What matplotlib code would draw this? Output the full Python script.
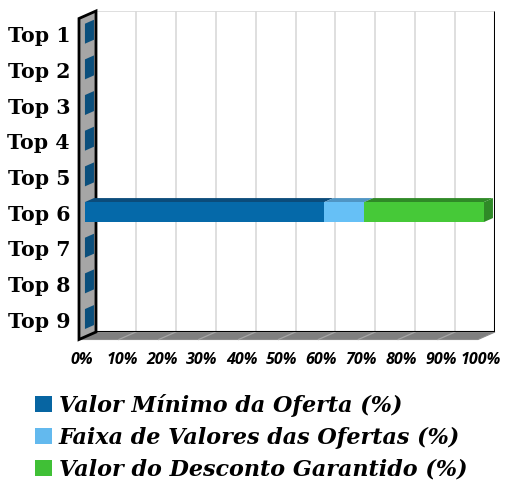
import numpy as np
import matplotlib.pyplot as plt
from matplotlib.patches import Polygon, Patch
from matplotlib.transforms import IdentityTransform, ScaledTranslation

categories = ['Top 1', 'Top 2', 'Top 3', 'Top 4', 'Top 5', 'Top 6', 'Top 7', 'Top 8', 'Top 9']
valor_minimo = [0, 0, 0, 0, 0, 60, 0, 0, 0]
faixa_valores = [0, 0, 0, 0, 0, 10, 0, 0, 0]
desconto_garantido = [0, 0, 0, 0, 0, 30, 0, 0, 0]
series_names = ['Valor Mínimo da Oferta (%)',
                'Faixa de Valores das Ofertas (%)',
                'Valor do Desconto Garantido (%)']
x_ticks = [0, 10, 20, 30, 40, 50, 60, 70, 80, 90, 100]
x_tick_labels = ['%d%%' % t for t in x_ticks]

front_colors = ['#0569a9', '#66c0f6', '#46c938']
depth_colors = ['#0b4c7b', '#4f95c4', '#2f8a27']
legend_colors = ['#0765a2', '#63b9ee', '#40c036']

# depth of the 3d box, in pixels (front is left / down)
DX, DY = -17.0, -7.5
BAR_BACK, BAR_FRONT = 0.12, 0.65
bar_h = 0.56

fig = plt.figure(figsize=(5.08, 4.94), dpi=100)
ax = fig.add_axes([96 / 508, 1 - 332 / 494, 399 / 508, 321 / 494])
ax.set_xlim(0, 100)
ax.set_ylim(len(categories) - 0.5, -0.5)
ax.set_axis_off()
y_top, y_bot = -0.5, len(categories) - 0.5


def depth_tf(d, ex=0.0, ey=0.0):
    return ax.transData + ScaledTranslation((DX * d + ex) / 100, (DY * d + ey) / 100,
                                            fig.dpi_scale_trans)


def px(x, y, d):
    p = ax.transData.transform((x, y))
    return (p[0] + DX * d, p[1] + DY * d)


def poly(pts, **kw):
    ax.add_patch(Polygon(pts, closed=True, transform=IdentityTransform(),
                         clip_on=False, **kw))


# back wall
ax.vlines(x_ticks[:-1], y_top, y_bot, color='#d9d9d9', lw=1.2, zorder=1)
ax.hlines(y_top, 0, 100, color='#d9d9d9', lw=1.2, zorder=1)
ax.vlines(100, y_top, y_bot, color='black', lw=2.2, zorder=2)

# floor
poly([px(0, y_bot, 0), px(100, y_bot, 0), px(100, y_bot, 1), px(0, y_bot, 1)],
     facecolor='#7f7f7f', edgecolor='#8c8c8c', lw=0.8, zorder=2)
for t in x_ticks[1:-1]:
    a, b = px(t, y_bot, 0), px(t, y_bot, 1)
    ax.plot([a[0], b[0]], [a[1], b[1]], color='#a5a5a5', lw=0.9,
            transform=IdentityTransform(), clip_on=False, zorder=2)
ax.hlines(y_bot, 0, 100, color='black', lw=1.5, zorder=3)

# left wall
poly([px(0, y_top, 0), px(0, y_top, 1), px(0, y_bot, 1), px(0, y_bot, 0)],
     facecolor='#a6a6a6', edgecolor='black', lw=2.0, zorder=3)

# bars
series = [valor_minimo, faixa_valores, desconto_garantido]
for i, cat in enumerate(categories):
    vals = [s[i] for s in series]
    y0, y1 = i - bar_h / 2, i + bar_h / 2
    if sum(vals) == 0:
        poly([px(0, y0, BAR_BACK), px(0, y1, BAR_BACK), px(0, y1, BAR_FRONT), px(0, y0, BAR_FRONT)],
             facecolor='#0b4f7c', edgecolor='none', zorder=4)
        continue
    left = 0
    for k, v in enumerate(vals):
        if v == 0:
            continue
        r = left + v
        poly([px(left, y0, BAR_BACK), px(r, y0, BAR_BACK), px(r, y0, BAR_FRONT), px(left, y0, BAR_FRONT)],
             facecolor=depth_colors[k], edgecolor='none', zorder=5)
        if k == len(vals) - 1:
            poly([px(r, y0, BAR_BACK), px(r, y1, BAR_BACK), px(r, y1, BAR_FRONT), px(r, y0, BAR_FRONT)],
                 facecolor=depth_colors[k], edgecolor='none', zorder=5)
        ax.barh(i, v, left=left, height=bar_h, color=front_colors[k],
                transform=depth_tf(BAR_FRONT), clip_on=False, zorder=6)
        left = r

# category labels
for i, cat in enumerate(categories):
    ax.text(0, i, cat, transform=depth_tf(1, ex=-9), ha='right', va='center',
            fontsize=14.8, fontweight='bold', family='DejaVu Serif', clip_on=False)

# x labels
for t, lab in zip(x_ticks, x_tick_labels):
    ax.text(t, y_bot, lab, transform=depth_tf(1, ex=3, ey=-20), ha='center', va='center',
            fontsize=11.5, fontweight='bold', style='italic', family='Open Sans', clip_on=False)

handles = [Patch(facecolor=c, edgecolor='none') for c in legend_colors]
fig.legend(handles, series_names, loc='upper left', bbox_to_anchor=(35 / 508, 1 - 394 / 494),
           frameon=False, borderpad=0, borderaxespad=0, handlelength=0.76, handleheight=0.76,
           handletextpad=0.3, labelspacing=0.44,
           prop={'family': 'DejaVu Serif', 'weight': 'bold', 'style': 'italic', 'size': 16})

fig.savefig('out.png', dpi=100)
